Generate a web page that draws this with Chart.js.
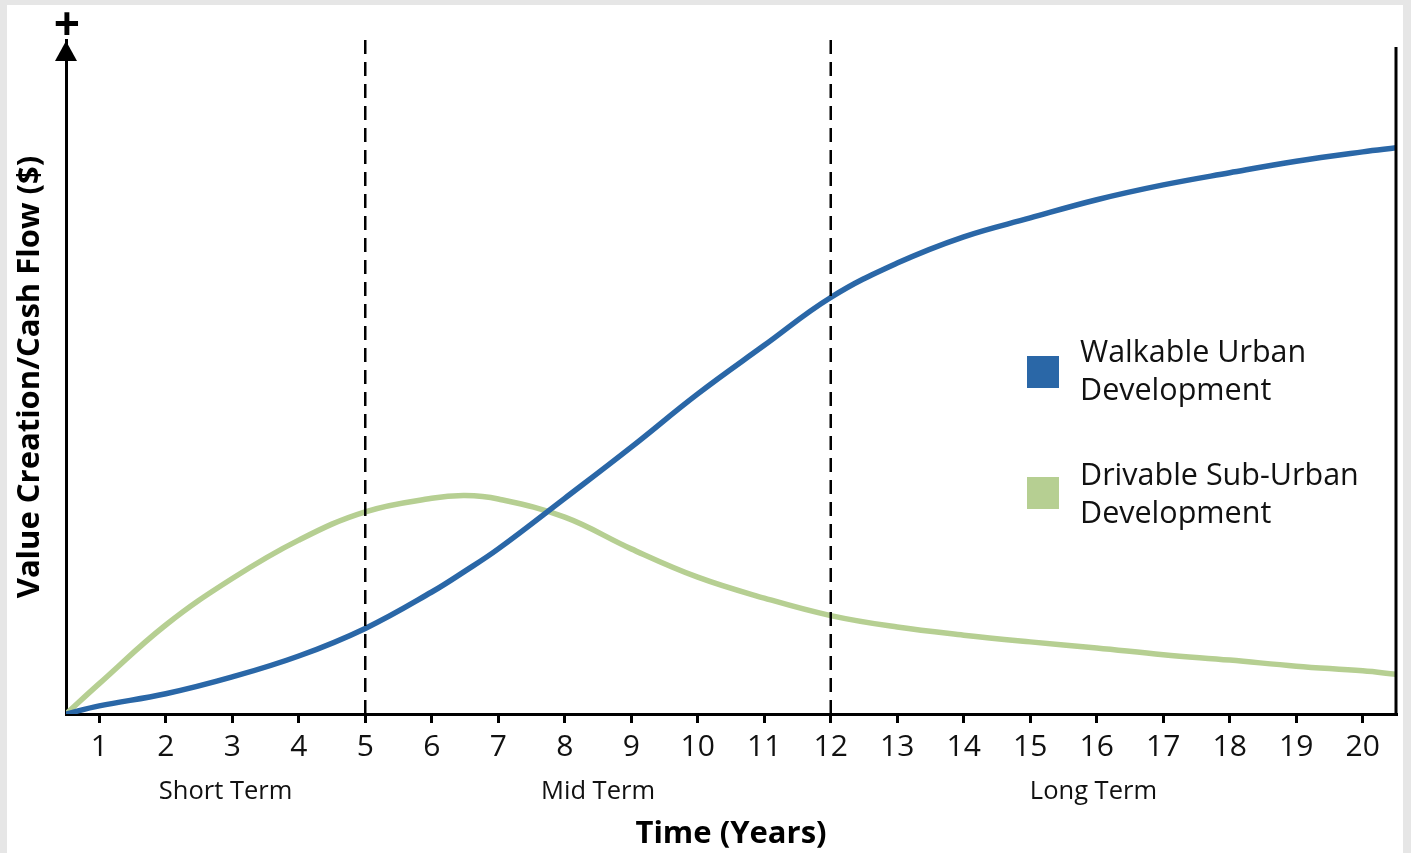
<!DOCTYPE html>
<html>
<head>
<meta charset="utf-8">
<script src="https://cdn.jsdelivr.net/npm/chart.js@4.4.1/dist/chart.umd.min.js"></script>
<style>
  html, body { margin: 0; padding: 0; width: 1411px; height: 853px; overflow: hidden; background: #e6e6e6; font-family: "Open Sans", sans-serif; }
  #frame { position: absolute; left: 7px; top: 5px; width: 1396px; height: 848px; background: #fff; }
  #chart { position: absolute; left: 0; top: 0; }
  .sw { position: absolute; width: 32px; height: 32px; }
  .lt { position: absolute; font-size: 30.5px; line-height: 38px; color: #111; white-space: nowrap; }
</style>
</head>
<body>
<div id="frame">
  <canvas id="chart" width="1396" height="848"></canvas>
</div>
<script>
// data
const years = [0.5, 1, 2, 3, 4, 5, 6, 6.5, 7, 8, 9, 10, 11, 12, 13, 14, 15, 16, 17, 18, 19, 20, 20.5];
const walkable = [0, 1.2, 3.0, 5.5, 8.6, 12.7, 18.1, 21.2, 24.5, 32.0, 39.6, 47.5, 54.7, 61.8, 66.9, 70.8, 73.6, 76.3, 78.5, 80.3, 82.0, 83.4, 84.0];
const drivable = [0, 4.5, 13.2, 20.1, 25.8, 30.0, 32.0, 32.4, 31.9, 29.2, 24.5, 20.3, 17.2, 14.6, 12.9, 11.7, 10.7, 9.8, 8.8, 8.0, 7.1, 6.4, 5.9];
const seriesNames = [["Walkable Urban", "Development"], ["Drivable Sub-Urban", "Development"]];
const seriesColors = ["#2a67a7", "#b6cf92"];
const xTicks = [1, 2, 3, 4, 5, 6, 7, 8, 9, 10, 11, 12, 13, 14, 15, 16, 17, 18, 19, 20];
const dividers = [5, 12];
const termLabels = ["Short Term", "Mid Term", "Long Term"];
const termCenters = [2.9, 8.5, 15.95];

const FONT = '"Open Sans", sans-serif';

// legend, built as html
const frame = document.getElementById("frame");
const legendTops = [[351, 326], [472, 449]];
seriesNames.forEach((lines, i) => {
  const sw = document.createElement("div");
  sw.className = "sw";
  sw.style.left = "1020px";
  sw.style.top = legendTops[i][0] + "px";
  sw.style.background = seriesColors[i];
  frame.appendChild(sw);
  const t = document.createElement("div");
  t.className = "lt";
  t.style.left = "1073px";
  t.style.top = legendTops[i][1] + "px";
  t.innerHTML = lines.join("<br>");
  frame.appendChild(t);
});

const extras = {
  id: "extras",
  afterDraw(chart) {
    const { ctx, chartArea: a } = chart;
    const xs = chart.scales.x;
    ctx.save();
    // right frame line
    ctx.strokeStyle = "#000";
    ctx.lineWidth = 3;
    ctx.beginPath();
    ctx.moveTo(a.right, a.top + 7);
    ctx.lineTo(a.right, a.bottom);
    ctx.stroke();
    // arrow head on the y axis
    ctx.fillStyle = "#000";
    ctx.beginPath();
    ctx.moveTo(a.left, a.top + 1);
    ctx.lineTo(a.left + 11, a.top + 21);
    ctx.lineTo(a.left - 11, a.top + 21);
    ctx.closePath();
    ctx.fill();
    // plus sign
    ctx.font = "bold 46px " + FONT;
    ctx.textAlign = "center";
    ctx.textBaseline = "middle";
    ctx.fillText("+", a.left + 1, 22);
    // term labels
    ctx.font = "25.5px " + FONT;
    ctx.fillStyle = "#111";
    termLabels.forEach((lab, i) => {
      ctx.fillText(lab, xs.getPixelForValue(termCenters[i]), 787);
    });
    ctx.restore();
  }
};

const dashSets = dividers.map(d => ({
  data: [{ x: d, y: 0 }, { x: d, y: 100 }],
  borderColor: "#000",
  borderWidth: 2.5,
  borderDash: [14, 8],
  pointRadius: 0
}));

new Chart(document.getElementById("chart").getContext("2d"), {
  type: "line",
  data: {
    datasets: [
      ...dashSets,
      {
        label: seriesNames[0].join(" "),
        data: years.map((x, i) => ({ x, y: walkable[i] })),
        borderColor: seriesColors[0],
        borderWidth: 5.5,
        pointRadius: 0,
        tension: 0.4
      },
      {
        label: seriesNames[1].join(" "),
        data: years.map((x, i) => ({ x, y: drivable[i] })),
        borderColor: seriesColors[1],
        borderWidth: 5.5,
        pointRadius: 0,
        tension: 0.4
      }
    ]
  },
  options: {
    responsive: false,
    animation: false,
    events: [],
    layout: { padding: { top: 35, right: 7, left: 0, bottom: 0 } },
    plugins: { legend: { display: false }, tooltip: { enabled: false } },
    scales: {
      x: {
        type: "linear",
        min: 0.5,
        max: 20.5,
        afterBuildTicks: s => { s.ticks = xTicks.map(v => ({ value: v })); },
        afterFit: s => { s.height = 139; },
        ticks: { font: { family: FONT, size: 30 }, color: "#111", padding: 6, maxRotation: 0, autoSkip: false },
        grid: { drawOnChartArea: false, drawTicks: true, tickLength: 9, color: "#000", lineWidth: 3 },
        border: { display: true, color: "#000", width: 3 },
        title: { display: true, text: "Time (Years)", color: "#000", font: { family: FONT, size: 31, weight: "bold" }, padding: { top: 0, bottom: 0 } }
      },
      y: {
        min: 0,
        max: 100,
        afterFit: s => { s.width = 59; },
        ticks: { display: false },
        grid: { display: false },
        border: { display: true, color: "#000", width: 3 },
        title: { display: true, text: "Value Creation/Cash Flow ($)", color: "#000", font: { family: FONT, size: 31, weight: "bold" }, padding: { top: 5, bottom: 0 } }
      }
    }
  },
  plugins: [extras]
});
</script>
</body>
</html>
